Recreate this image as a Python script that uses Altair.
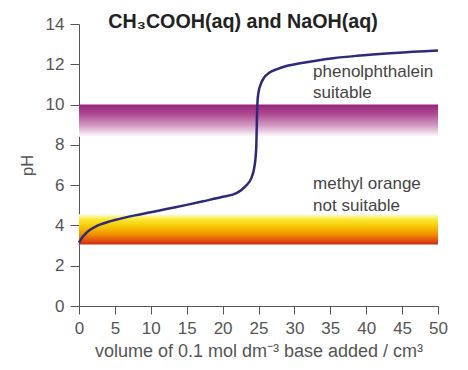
import altair as alt
import pandas as pd

# titration curve
volume = [0, 0.5, 1, 1.5, 2.2, 3, 4, 5, 6.5, 7.8, 10, 12, 15, 17.3, 20, 22, 23.2, 24,
          24.4, 24.6, 24.7, 24.75, 24.8, 24.87, 25.0, 25.3, 25.8, 26.5, 27.5, 29,
          30.8, 33, 35.4, 38.7, 44, 50]
ph = [3.15, 3.42, 3.62, 3.77, 3.92, 4.05, 4.17, 4.27, 4.4, 4.5, 4.65, 4.8, 5.02, 5.2,
      5.42, 5.62, 5.95, 6.35, 6.85, 7.4, 8.0, 8.8, 9.6, 10.2, 10.6, 11.0, 11.35, 11.58,
      11.75, 11.93, 12.05, 12.18, 12.3, 12.42, 12.56, 12.68]

# indicator ranges
phenol_range = [8.4, 10.0]
methyl_range = [3.05, 4.55]
x_range = [0, 50]

x_ticks = [0, 5, 10, 15, 20, 25, 30, 35, 40, 45, 50]
y_ticks = [0, 2, 4, 6, 8, 10, 12, 14]

title_text = "CH₃COOH(aq) and NaOH(aq)"
labels = pd.DataFrame({
    "x": [32.6, 32.6, 32.6, 32.6],
    "y": [11.62, 10.58, 6.06, 4.97],
    "t": ["phenolphthalein", "suitable", "methyl orange", "not suitable"],
})

curve = pd.DataFrame({"v": volume, "ph": ph})
phenol = pd.DataFrame({"x": [x_range[0]], "x2": [x_range[1]], "y": [phenol_range[0]], "y2": [phenol_range[1]]})
methyl = pd.DataFrame({"x": [x_range[0]], "x2": [x_range[1]], "y": [methyl_range[0]], "y2": [methyl_range[1]]})
title_df = pd.DataFrame({"x": [22.85], "y": [14.1], "t": [title_text]})

grey = "#555555"
font = "Liberation Sans"

xscale = alt.Scale(domain=[0, 50], nice=False)
yscale = alt.Scale(domain=[0, 14], nice=False)

xaxis = alt.Axis(values=x_ticks, title="volume of 0.1 mol dm⁻³ base added / cm³",
                 grid=False, labelFontSize=17, titleFontSize=18, labelColor=grey,
                 titleColor=grey, domainColor=grey, tickColor=grey, tickSize=8,
                 labelPadding=6, titlePadding=6, labelFont=font, titleFont=font,
                 titleFontWeight="normal", labelFlush=False, labelOverlap=False)
yaxis = alt.Axis(values=y_ticks, title="pH", grid=False, labelFontSize=17,
                 titleFontSize=16.5, labelColor=grey, titleColor=grey,
                 domainColor=grey, tickColor=grey, tickSize=9, labelPadding=6,
                 titlePadding=10, labelFont=font, titleFont=font,
                 titleFontWeight="normal", labelFlush=False, labelOverlap=False)

purple_grad = alt.Gradient(
    gradient="linear", x1=0, x2=0, y1=0, y2=1,
    stops=[
        alt.GradientStop(offset=0, color="#98237c"),
        alt.GradientStop(offset=0.3, color="#ae4c94"),
        alt.GradientStop(offset=0.65, color="#d49bc2"),
        alt.GradientStop(offset=1, color="#ffffff"),
    ],
)
orange_grad = alt.Gradient(
    gradient="linear", x1=0, x2=0, y1=0, y2=1,
    stops=[
        alt.GradientStop(offset=0, color="#fffbe6"),
        alt.GradientStop(offset=0.15, color="#faea3c"),
        alt.GradientStop(offset=0.4, color="#f6c800"),
        alt.GradientStop(offset=0.68, color="#f08c00"),
        alt.GradientStop(offset=0.88, color="#e04c10"),
        alt.GradientStop(offset=1, color="#cc2a14"),
    ],
)

band1 = alt.Chart(phenol).mark_rect(color=purple_grad).encode(
    x=alt.X("x:Q", scale=xscale, axis=xaxis), x2="x2:Q",
    y=alt.Y("y:Q", scale=yscale, axis=yaxis), y2="y2:Q",
)
band2 = alt.Chart(methyl).mark_rect(color=orange_grad).encode(
    x=alt.X("x:Q", scale=xscale, axis=xaxis), x2="x2:Q",
    y=alt.Y("y:Q", scale=yscale, axis=yaxis), y2="y2:Q",
)
line = alt.Chart(curve).mark_line(color="#2d2a7a", strokeWidth=2.5, interpolate="monotone").encode(
    x=alt.X("v:Q", scale=xscale, axis=xaxis), y=alt.Y("ph:Q", scale=yscale, axis=yaxis),
)
text = alt.Chart(labels).mark_text(align="left", baseline="middle", fontSize=17,
                                   color="#444444", font=font).encode(
    x=alt.X("x:Q", scale=xscale, axis=xaxis), y=alt.Y("y:Q", scale=yscale, axis=yaxis), text="t:N",
)
title = alt.Chart(title_df).mark_text(align="center", baseline="middle", fontSize=19.7,
                                      fontWeight="bold", color="#222222", font=font).encode(
    x=alt.X("x:Q", scale=xscale, axis=xaxis), y=alt.Y("y:Q", scale=yscale, axis=yaxis), text="t:N",
)

chart = alt.layer(band1, band2, line, text, title).properties(
    width=359, height=282, padding={"left": 11, "top": 3, "right": 5, "bottom": 5},
).configure_view(stroke=None)

chart.save("out.html", embed_options={"renderer": "svg", "actions": False})
